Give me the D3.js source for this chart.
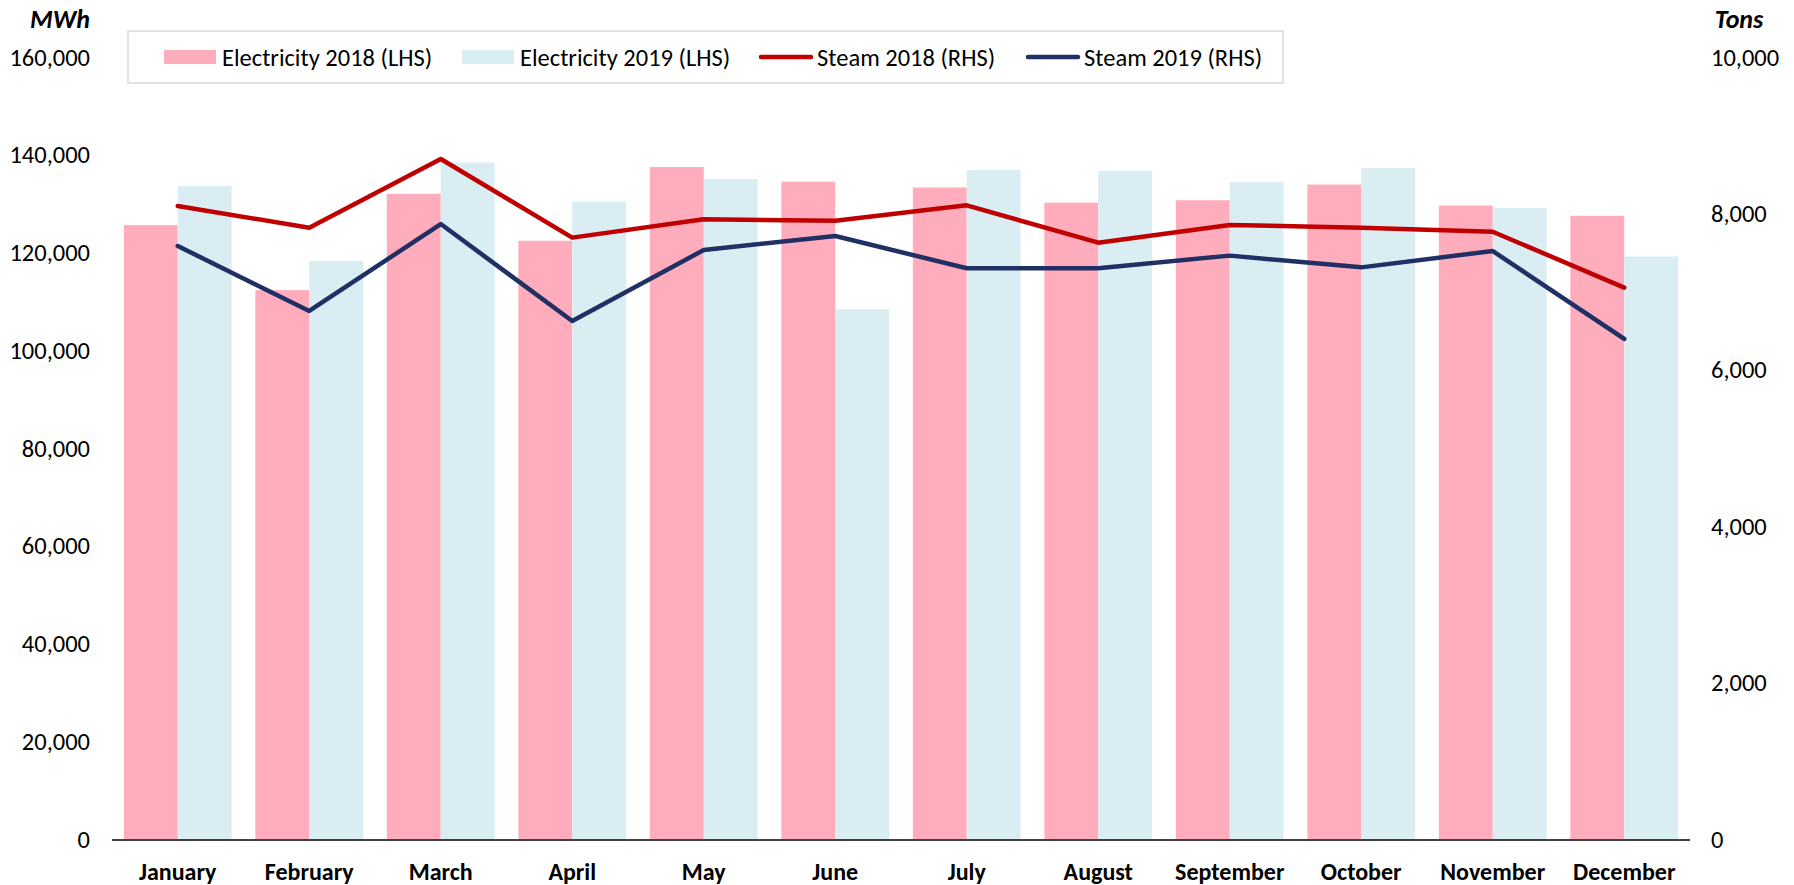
<!DOCTYPE html>
<html>
<head>
<meta charset="utf-8">
<script src="https://cdn.jsdelivr.net/npm/d3@7"></script>
<style>
  body { margin: 0; background: #fff; }
  svg text { font-family: Carlito, Calibri, Lato, sans-serif; fill: #000; }
</style>
</head>
<body>
<svg id="chart" width="1794" height="885"></svg>
<script>
// data
var months = ["January", "February", "March", "April", "May", "June",
              "July", "August", "September", "October", "November", "December"];
var elec2018 = [125600, 112300, 132000, 122400, 137500, 134500, 133300, 130200, 130700, 133900, 129600, 127500];
var elec2019 = [133600, 118300, 138400, 130400, 135000, 108400, 136900, 136700, 134400, 137300, 129100, 119200];
var steam2018 = [8095, 7817, 8696, 7690, 7924, 7907, 8103, 7626, 7852, 7817, 7766, 7050];
var steam2019 = [7583, 6752, 7864, 6624, 7532, 7711, 7298, 7298, 7460, 7310, 7519, 6394];
var leftTicks = [0, 20000, 40000, 60000, 80000, 100000, 120000, 140000, 160000];
var rightTicks = [0, 2000, 4000, 6000, 8000, 10000];

var svg = d3.select("#chart");
var plotLeft = 112, plotRight = 1690, plotTop = 57, plotBottom = 839;
var pink = "#FFADBC", lightBlue = "#DAEDF3", red = "#C00000", navy = "#203064";

var x = d3.scaleBand().domain(months).range([plotLeft, plotRight]).paddingInner(0.18).paddingOuter(0.09);
var x1 = d3.scaleBand().domain(["e18", "e19"]).range([0, x.bandwidth()]);
var yL = d3.scaleLinear().domain([0, 160000]).range([plotBottom, plotTop]);
var yR = d3.scaleLinear().domain([0, 10000]).range([plotBottom, plotTop]);
var fmt = d3.format(",");

// bars
var groups = svg.append("g").selectAll("g").data(months).enter().append("g")
    .attr("transform", function(d) { return "translate(" + x(d) + ",0)"; });
groups.append("rect")
    .attr("x", x1("e18")).attr("width", x1.bandwidth())
    .attr("y", function(d, i) { return yL(elec2018[i]); })
    .attr("height", function(d, i) { return plotBottom - yL(elec2018[i]); })
    .attr("fill", pink);
groups.append("rect")
    .attr("x", x1("e19")).attr("width", x1.bandwidth())
    .attr("y", function(d, i) { return yL(elec2019[i]); })
    .attr("height", function(d, i) { return plotBottom - yL(elec2019[i]); })
    .attr("fill", lightBlue);

// x axis line
svg.append("line").attr("x1", plotLeft).attr("x2", plotRight).attr("y1", plotBottom + 1).attr("y2", plotBottom + 1)
    .attr("stroke", "#404040").attr("stroke-width", 2);

// steam lines
var cx = function(i) { return x(months[i]) + x.bandwidth() / 2; };
var line = d3.line().x(function(d, i) { return cx(i); }).y(function(d) { return yR(d); });
[[steam2018, red], [steam2019, navy]].forEach(function(s) {
    svg.append("path").datum(s[0]).attr("d", line)
        .attr("fill", "none").attr("stroke", s[1]).attr("stroke-width", 4.5)
        .attr("stroke-linecap", "round").attr("stroke-linejoin", "round");
});

// left ticks
svg.append("g").selectAll("text").data(leftTicks).enter().append("text")
    .attr("x", 90).attr("y", function(d) { return yL(d); }).attr("dy", "0.35em")
    .attr("text-anchor", "end").style("font-size", "24.5px").text(fmt);
// right ticks
svg.append("g").selectAll("text").data(rightTicks).enter().append("text")
    .attr("x", 1711).attr("y", function(d) { return yR(d); }).attr("dy", "0.35em")
    .attr("text-anchor", "start").style("font-size", "24.5px").text(fmt);
// month labels
svg.append("g").selectAll("text").data(months).enter().append("text")
    .attr("x", function(d) { return x(d) + x.bandwidth() / 2; }).attr("y", 872).attr("dy", "0.35em")
    .attr("text-anchor", "middle").style("font-size", "24px").style("font-weight", "bold").text(function(d) { return d; });

// axis titles
svg.append("text").attr("x", 60).attr("y", 19).attr("dy", "0.35em").attr("text-anchor", "middle")
    .style("font-size", "26px").style("font-weight", "bold").style("font-style", "italic").text("MWh");
svg.append("text").attr("x", 1739).attr("y", 19).attr("dy", "0.35em").attr("text-anchor", "middle")
    .style("font-size", "26px").style("font-weight", "bold").style("font-style", "italic").text("Tons");

// legend
svg.append("rect").attr("x", 128).attr("y", 31).attr("width", 1155).attr("height", 52)
    .attr("fill", "#fff").attr("stroke", "#D9D9D9").attr("stroke-width", 1.5);
var legendItems = [
    {label: "Electricity 2018 (LHS)", color: pink, type: "rect", x: 164},
    {label: "Electricity 2019 (LHS)", color: lightBlue, type: "rect", x: 462},
    {label: "Steam 2018 (RHS)", color: red, type: "line", x: 759},
    {label: "Steam 2019 (RHS)", color: navy, type: "line", x: 1026}
];
var ly = 57;
legendItems.forEach(function(d) {
    if (d.type == "rect") {
        svg.append("rect").attr("x", d.x).attr("y", ly - 7).attr("width", 52).attr("height", 14).attr("fill", d.color);
    } else {
        svg.append("line").attr("x1", d.x + 2).attr("x2", d.x + 52).attr("y1", ly).attr("y2", ly)
            .attr("stroke", d.color).attr("stroke-width", 4.5).attr("stroke-linecap", "round");
    }
    svg.append("text").attr("x", d.x + 58).attr("y", ly).attr("dy", "0.35em")
        .style("font-size", "24.5px").text(d.label);
});
</script>
</body>
</html>
